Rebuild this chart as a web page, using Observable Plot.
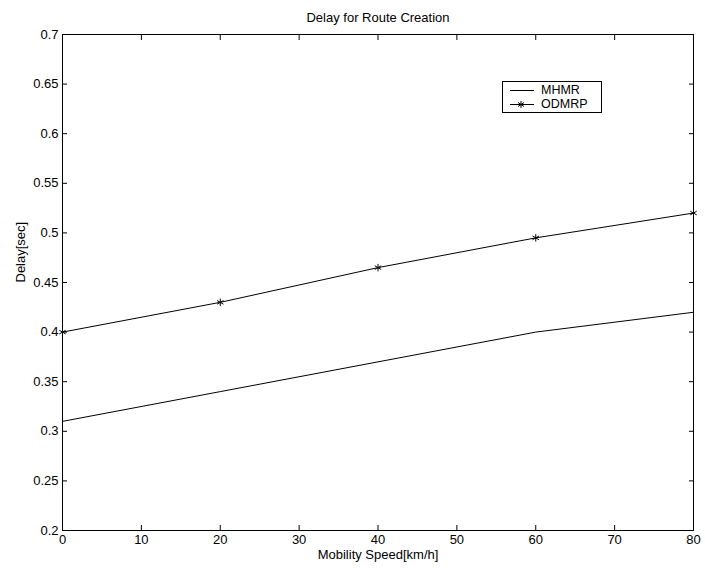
<!DOCTYPE html>
<html>
<head>
<meta charset="utf-8">
<script src="https://cdn.jsdelivr.net/npm/d3@7"></script>
<script src="https://cdn.jsdelivr.net/npm/@observablehq/plot@0.6"></script>
<style>
  html, body { margin: 0; padding: 0; background: #fff; }
  #wrap { position: relative; width: 705px; height: 568px; font-family: "Liberation Sans", Arial, sans-serif; }
  #legend { position: absolute; left: 502px; top: 81px; width: 100px; height: 32px; box-sizing: border-box;
            border: 1px solid #000; background: #fff; font-size: 12.5px; color: #000; }
  #legend .row { position: absolute; left: 6px; height: 13px; display: flex; align-items: center; }
  #legend svg { display: block; }
  #legend span { margin-left: 6px; line-height: 13px; }
</style>
</head>
<body>
<div id="wrap"></div>
<script>
const speeds = [0, 20, 40, 60, 80];
const mhmr   = [0.31, 0.34, 0.37, 0.40, 0.42];
const odmrp  = [0.40, 0.43, 0.465, 0.495, 0.52];
const seriesNames = ["MHMR", "ODMRP"];
const xTicks = [0, 10, 20, 30, 40, 50, 60, 70, 80];
const yTicks = [0.2, 0.25, 0.3, 0.35, 0.4, 0.45, 0.5, 0.55, 0.6, 0.65, 0.7];
const titleText = "Delay for Route Creation";
const xLabel = "Mobility Speed[km/h]";
const yLabel = "Delay[sec]";

const data = [];
speeds.forEach((s, i) => {
  data.push({series: seriesNames[0], x: s, y: mhmr[i]});
  data.push({series: seriesNames[1], x: s, y: odmrp[i]});
});
const fmt = d => String(+d.toFixed(2));

const chart = Plot.plot({
  width: 705,
  height: 568,
  marginLeft: 62,
  marginRight: 12,
  marginTop: 34,
  marginBottom: 38,
  style: {fontFamily: "'Liberation Sans', Arial, sans-serif", fontSize: "13px", color: "#000", background: "#fff"},
  x: {domain: [0, 80]},
  y: {domain: [0.2, 0.7]},
  marks: [
    Plot.frame({stroke: "#000", strokeWidth: 1}),
    Plot.axisX({anchor: "bottom", ticks: xTicks, tickSize: -5, tickPadding: 9, tickFormat: fmt, label: null, fontSize: 13}),
    Plot.axisX({anchor: "top", ticks: xTicks, tickSize: -5, tickFormat: () => "", label: null}),
    Plot.axisY({anchor: "left", ticks: yTicks, tickSize: -5, tickPadding: 9, tickFormat: fmt, label: null, fontSize: 13}),
    Plot.axisY({anchor: "right", ticks: yTicks, tickSize: -5, tickFormat: () => "", label: null}),
    Plot.line(data, {x: "x", y: "y", z: "series", stroke: "#000", strokeWidth: 1}),
    Plot.dot(data.filter(d => d.series === "ODMRP"), {x: "x", y: "y", symbol: "asterisk", r: 3.5, stroke: "#000", strokeWidth: 1}),
    Plot.text([titleText], {frameAnchor: "top", dy: -22, fontSize: 13, fill: "#000"}),
    Plot.text([xLabel], {frameAnchor: "bottom", dy: 28, fontSize: 13, fill: "#000"}),
    Plot.text([yLabel], {frameAnchor: "left", dx: -42, rotate: -90, fontSize: 13, fill: "#000"})
  ]
});
const wrap = document.getElementById("wrap");
wrap.appendChild(chart);

// Legend
const legend = document.createElement("div");
legend.id = "legend";
seriesNames.forEach((name, i) => {
  const row = document.createElement("div");
  row.className = "row";
  row.style.top = (2 + i * 14) + "px";
  const marker = name === "ODMRP"
    ? `<path d="M12,3V10M9,4.5L15,8.5M9,8.5L15,4.5" stroke="#000" stroke-width="1" fill="none"/>`
    : "";
  row.innerHTML = `<svg width="26" height="13"><line x1="1" x2="25" y1="6.5" y2="6.5" stroke="#000" stroke-width="1"/>${marker}</svg><span>${name}</span>`;
  legend.appendChild(row);
});
wrap.appendChild(legend);
</script>
</body>
</html>
